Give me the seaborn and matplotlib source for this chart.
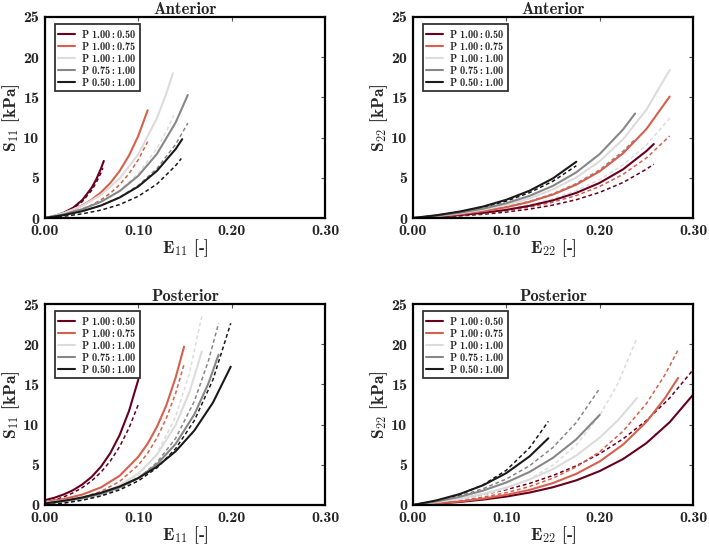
import numpy as np
import pandas as pd
import matplotlib
matplotlib.use("Agg")
import matplotlib.pyplot as plt
import seaborn as sns

sns.set_theme(style="white")
plt.rcParams['font.family'] = ['cmb10', 'DejaVu Serif']
plt.rcParams['mathtext.fontset'] = 'cm'
plt.rcParams['axes.unicode_minus'] = False

labels = ["P 1.00$\\,$:$\\,$0.50", "P 1.00$\\,$:$\\,$0.75", "P 1.00$\\,$:$\\,$1.00",
          "P 0.75$\\,$:$\\,$1.00", "P 0.50$\\,$:$\\,$1.00"]
colors = ["#67001f", "#d6604d", "#dcdcdc", "#878787", "#1a1a1a"]

# ---- Anterior, S11 vs E11 (solid = measured, dashed = model) ----
ant11_E = [
    [0, 0.01, 0.02, 0.03, 0.04, 0.05, 0.055, 0.06, 0.063],
    [0, 0.01, 0.02, 0.03, 0.04, 0.05, 0.06, 0.07, 0.08, 0.09, 0.10, 0.11],
    [0, 0.02, 0.04, 0.06, 0.08, 0.10, 0.12, 0.13, 0.137],
    [0, 0.02, 0.04, 0.06, 0.08, 0.10, 0.12, 0.14, 0.153],
    [0, 0.02, 0.04, 0.06, 0.08, 0.10, 0.12, 0.14, 0.147],
]
ant11_S = [
    [0, 0.25, 0.65, 1.27, 2.24, 3.76, 4.82, 6.15, 7.1],
    [0, 0.26, 0.59, 1.02, 1.57, 2.28, 3.19, 4.35, 5.85, 7.77, 10.23, 13.4],
    [0, 0.61, 1.52, 2.88, 4.91, 7.94, 12.44, 15.48, 18.0],
    [0, 0.45, 1.10, 2.02, 3.35, 5.25, 7.98, 11.88, 15.3],
    [0, 0.36, 0.85, 1.55, 2.55, 3.92, 5.87, 8.58, 9.8],
]
ant11_Ed = [
    [0, 0.01, 0.02, 0.03, 0.04, 0.05, 0.055, 0.06, 0.062],
    [0, 0.01, 0.02, 0.03, 0.04, 0.05, 0.06, 0.07, 0.08, 0.09, 0.10, 0.11],
    [0, 0.02, 0.04, 0.06, 0.08, 0.10, 0.12, 0.13, 0.138],
    [0, 0.02, 0.04, 0.06, 0.08, 0.10, 0.12, 0.14, 0.153],
    [0, 0.02, 0.04, 0.06, 0.08, 0.10, 0.12, 0.14, 0.146],
]
ant11_Sd = [
    [0, 0.23, 0.59, 1.16, 2.05, 3.44, 4.42, 5.63, 6.2],
    [0, 0.18, 0.42, 0.72, 1.12, 1.62, 2.26, 3.08, 4.15, 5.51, 7.26, 9.5],
    [0, 0.43, 1.06, 2.01, 3.42, 5.53, 8.67, 10.78, 12.8],
    [0, 0.35, 0.85, 1.56, 2.59, 4.06, 6.16, 9.17, 11.8],
    [0, 0.21, 0.52, 0.98, 1.67, 2.70, 4.23, 6.52, 7.4],
]

# ---- Anterior, S22 vs E22 ----
ant22_E = [
    [0, 0.025, 0.05, 0.075, 0.10, 0.125, 0.15, 0.175, 0.20, 0.225, 0.25, 0.258],
    [0, 0.025, 0.05, 0.075, 0.10, 0.125, 0.15, 0.175, 0.20, 0.225, 0.25, 0.275],
    [0, 0.025, 0.05, 0.075, 0.10, 0.125, 0.15, 0.175, 0.20, 0.225, 0.25, 0.275],
    [0, 0.025, 0.05, 0.075, 0.10, 0.125, 0.15, 0.175, 0.20, 0.225, 0.238],
    [0, 0.025, 0.05, 0.075, 0.10, 0.125, 0.15, 0.175],
]
ant22_S = [
    [0, 0.15, 0.36, 0.64, 1.01, 1.52, 2.20, 3.13, 4.37, 6.05, 8.32, 9.2],
    [0, 0.20, 0.48, 0.85, 1.34, 2.01, 2.92, 4.15, 5.80, 8.04, 11.05, 15.1],
    [0, 0.25, 0.58, 1.03, 1.64, 2.45, 3.56, 5.05, 7.06, 9.79, 13.46, 18.4],
    [0, 0.28, 0.65, 1.16, 1.84, 2.76, 4.00, 5.68, 7.95, 11.0, 13.0],
    [0, 0.34, 0.80, 1.42, 2.27, 3.40, 4.93, 7.0],
]
ant22_Sd = [
    [0, 0.11, 0.26, 0.46, 0.74, 1.11, 1.61, 2.28, 3.19, 4.41, 6.07, 6.7],
    [0, 0.14, 0.32, 0.57, 0.91, 1.36, 1.97, 2.80, 3.92, 5.43, 7.46, 10.2],
    [0, 0.17, 0.39, 0.69, 1.10, 1.65, 2.40, 3.41, 4.76, 6.59, 9.07, 12.4],
    [0, 0.21, 0.49, 0.87, 1.39, 2.08, 3.02, 4.29, 5.99, 8.30, 9.8],
    [0, 0.32, 0.75, 1.32, 2.10, 3.16, 4.58, 6.5],
]

# ---- Posterior, S11 vs E11 ----
post11_E = [
    [0, 0.01, 0.02, 0.03, 0.04, 0.05, 0.06, 0.07, 0.08, 0.09, 0.10],
    [0, 0.02, 0.04, 0.06, 0.08, 0.10, 0.11, 0.12, 0.13, 0.14, 0.149],
    [0, 0.02, 0.04, 0.06, 0.08, 0.10, 0.12, 0.14, 0.155, 0.168],
    [0, 0.02, 0.04, 0.06, 0.08, 0.10, 0.12, 0.14, 0.16, 0.175, 0.186],
    [0, 0.02, 0.04, 0.06, 0.08, 0.10, 0.12, 0.14, 0.16, 0.18, 0.199],
]
post11_S = [
    [0.6, 0.90, 1.31, 1.84, 2.56, 3.50, 4.77, 6.46, 8.70, 11.69, 15.6],
    [0.4, 0.74, 1.30, 2.19, 3.64, 6.0, 7.63, 9.74, 12.4, 15.86, 19.7],
    [0.3, 0.54, 0.91, 1.50, 2.44, 3.92, 6.26, 9.97, 14.1, 19.1],
    [0.2, 0.46, 0.83, 1.38, 2.19, 3.36, 5.08, 7.60, 11.27, 15.1, 18.7],
    [0.2, 0.52, 0.94, 1.52, 2.30, 3.35, 4.77, 6.68, 9.26, 12.75, 17.2],
]
post11_Sd = [
    [0.3, 0.61, 1.00, 1.51, 2.17, 3.00, 4.08, 5.47, 7.27, 9.57, 12.5],
    [0.2, 0.48, 0.93, 1.69, 2.93, 4.97, 6.45, 8.35, 10.8, 13.9, 17.5],
    [0.2, 0.38, 0.69, 1.22, 2.13, 3.70, 6.38, 10.99, 16.5, 23.5],
    [0.0, 0.24, 0.61, 1.17, 2.03, 3.33, 5.30, 8.30, 12.9, 17.9, 22.6],
    [0.0, 0.24, 0.60, 1.12, 1.88, 3.00, 4.63, 7.01, 10.5, 15.6, 22.6],
]

# ---- Posterior, S22 vs E22 ----
post22_E = [
    [0, 0.025, 0.05, 0.075, 0.10, 0.125, 0.15, 0.175, 0.20, 0.225, 0.25, 0.275, 0.30],
    [0, 0.025, 0.05, 0.075, 0.10, 0.125, 0.15, 0.175, 0.20, 0.225, 0.25, 0.27, 0.284],
    [0, 0.025, 0.05, 0.075, 0.10, 0.125, 0.15, 0.175, 0.20, 0.22, 0.24],
    [0, 0.025, 0.05, 0.075, 0.10, 0.125, 0.15, 0.175, 0.20],
    [0, 0.025, 0.05, 0.075, 0.10, 0.125, 0.145],
]
post22_S = [
    [0, 0.17, 0.38, 0.67, 1.05, 1.55, 2.21, 3.07, 4.22, 5.71, 7.69, 10.3, 13.7],
    [0, 0.19, 0.44, 0.79, 1.26, 1.88, 2.73, 3.88, 5.42, 7.51, 10.33, 13.3, 15.8],
    [0, 0.35, 0.81, 1.40, 2.17, 3.17, 4.47, 6.16, 8.37, 10.59, 13.3],
    [0, 0.44, 1.02, 1.79, 2.80, 4.12, 5.87, 8.17, 11.2],
    [0, 0.57, 1.36, 2.45, 3.97, 6.06, 8.3],
]
post22_Sd = [
    [0, 0.34, 0.75, 1.27, 1.91, 2.69, 3.67, 4.88, 6.37, 8.22, 10.5, 13.3, 16.8],
    [0, 0.23, 0.54, 0.97, 1.53, 2.30, 3.34, 4.74, 6.62, 9.17, 12.6, 16.2, 19.3],
    [0, 0.27, 0.65, 1.21, 2.03, 3.22, 4.96, 7.46, 11.15, 15.2, 20.8],
    [0, 0.48, 1.13, 2.02, 3.23, 4.89, 7.16, 10.26, 14.5],
    [0, 0.51, 1.29, 2.50, 4.32, 7.13, 10.4],
]

panels = [
    ("Anterior", r"E$_{11}$ [-]", r"S$_{11}$ [kPa]", ant11_E, ant11_S, ant11_Ed, ant11_Sd),
    ("Anterior", r"E$_{22}$ [-]", r"S$_{22}$ [kPa]", ant22_E, ant22_S, ant22_E, ant22_Sd),
    ("Posterior", r"E$_{11}$ [-]", r"S$_{11}$ [kPa]", post11_E, post11_S, post11_E, post11_Sd),
    ("Posterior", r"E$_{22}$ [-]", r"S$_{22}$ [kPa]", post22_E, post22_S, post22_E, post22_Sd),
]

fig = plt.figure(figsize=(7.09, 5.47), dpi=100)
W, H = 709, 547
boxes = [(45, 17), (413, 17), (45, 304), (413, 304)]
aw, ah = 280, 201

for (title, xl, yl, Es, Ss, Eds, Sds), (x0, y0) in zip(panels, boxes):
    ax = fig.add_axes([x0 / W, 1 - (y0 + ah) / H, aw / W, ah / H])
    handles = []
    for i in range(5):
        sns.lineplot(x=Eds[i], y=Sds[i], ax=ax, color=colors[i], lw=1.1,
                     linestyle=(0, (2.5, 1.8)), sort=False)
    for i in range(5):
        sns.lineplot(x=Es[i], y=Ss[i], ax=ax, color=colors[i], lw=1.5, sort=False)
        handles.append(ax.lines[-1])
    ax.set_xlim(0, 0.30)
    ax.set_ylim(0, 25)
    ax.set_xticks([0, 0.10, 0.20, 0.30])
    ax.set_xticklabels(["0.00", "0.10", "0.20", "0.30"])
    ax.set_yticks([0, 5, 10, 15, 20, 25])
    ax.set_yticklabels(["0", "5", "10", "15", "20", "25"])
    ax.tick_params(direction="in", length=3, width=0.8, top=True, right=True,
                   labelsize=11.5, color="#555555")
    ax.tick_params(axis="x", pad=4)
    ax.tick_params(axis="y", pad=4)
    for sp in ax.spines.values():
        sp.set_linewidth(1.6)
        sp.set_color("black")
    ax.set_title(title, fontsize=12, pad=2)
    ax.set_xlabel(xl, fontsize=12.5, labelpad=0)
    ax.set_ylabel(yl, fontsize=12.5, labelpad=1)
    leg = ax.legend(handles, labels, loc="upper left", bbox_to_anchor=(0.035, 0.965),
                    fontsize=7.5, frameon=True, fancybox=False, borderaxespad=0,
                    handlelength=1.6, handletextpad=0.6, labelspacing=0.0,
                    borderpad=0.35)
    leg.get_frame().set_edgecolor("black")
    leg.get_frame().set_linewidth(1.3)

fig.savefig("out.png", dpi=100)
